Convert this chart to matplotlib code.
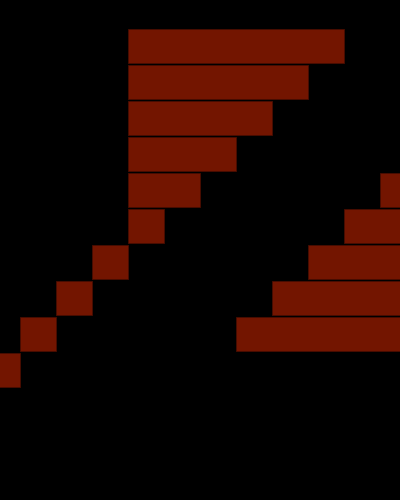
import matplotlib
matplotlib.use("Agg")
import matplotlib.pyplot as plt

# rows from top to bottom
rows = [1, 2, 3, 4, 5, 6, 7, 8, 9, 10]

# main bars growing right from zero
main_rows = [1, 2, 3, 4, 5, 6]
main_widths = [6, 5, 4, 3, 2, 1]

# step bars going down-left
step_rows = [7, 8, 9, 10]
step_lefts = [-1, -2, -3, -4]
step_widths = [1, 1, 1, 1]

# bars on the right running off the edge
right_rows = [5, 6, 7, 8, 9]
right_lefts = [7, 6, 5, 4, 3]
right_widths = [3, 4, 5, 6, 7]

color = "#731500"

fig = plt.figure(figsize=(4, 5), dpi=100, facecolor="black")
ax = fig.add_axes([0, 0, 1, 1], facecolor="black")

h = 0.935
ax.barh(main_rows, main_widths, left=0, height=h, color=color,
        edgecolor="#4a0d00", linewidth=0.6)
ax.barh(step_rows, step_widths, left=step_lefts, height=h, color=color,
        edgecolor="#4a0d00", linewidth=0.6)
ax.barh(right_rows, right_widths, left=right_lefts, height=h, color=color,
        edgecolor="#4a0d00", linewidth=0.6)

ax.set_xlim(-128 / 36, 272 / 36)
ax.set_ylim(1 + (500 - 46.2) / 36, 1 - 46.2 / 36)
ax.axis("off")

fig.savefig("out.png", dpi=100, facecolor="black")
